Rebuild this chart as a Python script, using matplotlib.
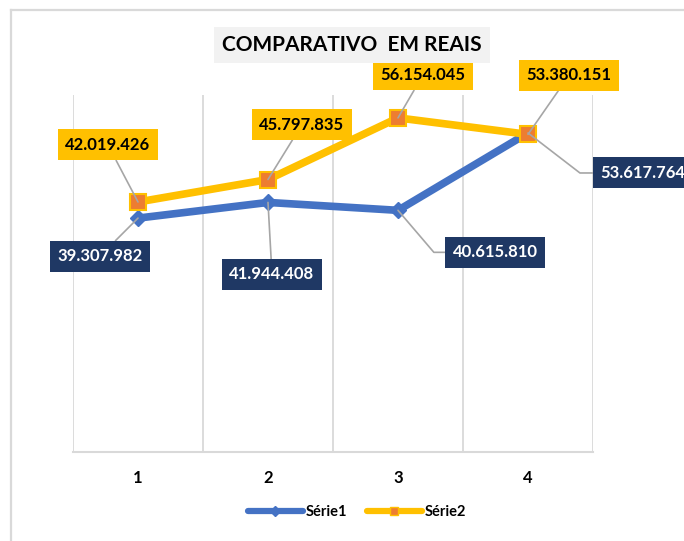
import matplotlib
matplotlib.use("Agg")
import matplotlib.pyplot as plt
from matplotlib.lines import Line2D
import numpy as np

categories = ["1", "2", "3", "4"]
serie1 = [39307982, 41944408, 40615810, 53617764]
serie2 = [42019426, 45797835, 56154045, 53380151]
series_names = ["Série1", "Série2"]
title = "COMPARATIVO  EM REAIS"

BLUE = "#4472C4"
YELLOW = "#FFC000"
ORANGE = "#ED7D31"
NAVY = "#1F3864"
GRID = "#D9D9D9"
LEADER = "#A6A6A6"
FONT = ["Lato", "DejaVu Sans"]

def fmt(v):
    return f"{v:,}".replace(",", ".")

fig = plt.figure(figsize=(6.84, 5.41), dpi=100)
ax = fig.add_axes([73/684, 1-452/541, 520/684, 357/541])

x = np.arange(1, len(categories) + 1)
ax.plot(x, serie1, color=BLUE, lw=5.5, marker="D", ms=8, mfc=BLUE, mec=BLUE,
        solid_capstyle="butt", zorder=3)
ax.plot(x, serie2, color=YELLOW, lw=5.5, marker="s", ms=11, mfc=ORANGE, mec=YELLOW,
        mew=1.5, solid_capstyle="butt", zorder=4)

ax.set_xlim(0.5, len(categories) + 0.5)
ax.set_ylim(0, 60000000)
ax.set_xticks(x)
ax.set_xticklabels(categories, fontsize=12, fontweight="bold", family=FONT)
ax.set_xticks(np.arange(0.5, len(categories) + 1, 1.0), minor=True)
ax.tick_params(axis="x", which="both", length=0, pad=13)
ax.set_yticks([])
ax.grid(True, which="minor", axis="x", color=GRID, lw=1.3)
for s in ["top", "left", "right"]:
    ax.spines[s].set_visible(False)
ax.spines["bottom"].set_color(GRID)
ax.spines["bottom"].set_linewidth(1.5)

# Data labels (offsets in pixels relative to point)
off2 = [(-30, 57), (34, 55), (25, 43), (41, 59)]
off1 = [(-38, -38), (4, -72), (97, -42), (115, -40)]
conn1 = [None, None, -49.5, -37.6]

for i, (xi, v) in enumerate(zip(x, serie2)):
    ax.annotate(fmt(v), (xi, v), xytext=off2[i], textcoords="offset pixels",
                ha="center", va="center", fontsize=12, fontweight="bold",
                family=FONT, color="black", zorder=6, annotation_clip=False,
                bbox=dict(boxstyle="square,pad=0.45", fc=YELLOW, ec="none"),
                arrowprops=dict(arrowstyle="-", color=LEADER, lw=1.2,
                                shrinkA=0, shrinkB=0))

for i, (xi, v) in enumerate(zip(x, serie1)):
    if conn1[i] is None:
        ap = dict(arrowstyle="-", color=LEADER, lw=1.2, shrinkA=0, shrinkB=0)
    else:
        ap = dict(arrowstyle="-", color=LEADER, lw=1.2, shrinkA=0, shrinkB=0,
                  relpos=(0, 0.5),
                  connectionstyle=f"angle,angleA=0,angleB={conn1[i]},rad=0")
    ax.annotate(fmt(v), (xi, v), xytext=off1[i], textcoords="offset pixels",
                ha="center", va="center", fontsize=12, fontweight="bold",
                family=FONT, color="white", zorder=6, annotation_clip=False,
                bbox=dict(boxstyle="square,pad=0.45", fc=NAVY, ec="none"),
                arrowprops=ap)

# Title
fig.text(352/684, 1-45/541, title, ha="center", va="center", fontsize=15,
         fontweight="bold", family=FONT, color="black",
         bbox=dict(boxstyle="square,pad=0.4", fc="#F2F2F2", ec="none"))

# Legend
handles = [
    Line2D([], [], color=BLUE, lw=4.5, marker="D", ms=5, mfc=BLUE, mec=BLUE,
           solid_capstyle="round"),
    Line2D([], [], color=YELLOW, lw=4.5, marker="s", ms=6, mfc=ORANGE, mec=YELLOW,
           solid_capstyle="round"),
]
leg = fig.legend(handles, series_names, loc="center",
                 bbox_to_anchor=(357/684, 1-512/541), ncol=2, frameon=False,
                 handlelength=3.8, handletextpad=0.2, columnspacing=1.3,
                 prop=dict(family=FONT, weight="bold", size=10.5))

# Chart border
fig.add_artist(Line2D([11/684, 11/684], [0, 1-10/541], color=GRID, lw=1.6,
                      transform=fig.transFigure))
fig.add_artist(Line2D([11/684, 1], [1-10/541, 1-10/541], color=GRID, lw=1.6,
                      transform=fig.transFigure))

fig.savefig("out.png", dpi=100)
